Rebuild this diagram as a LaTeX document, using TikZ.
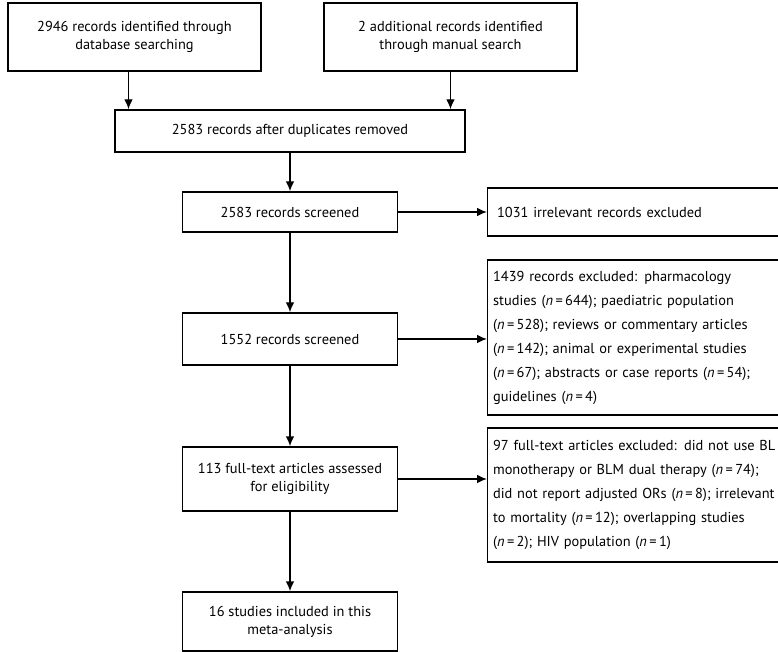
\documentclass[tikz,border=0pt]{standalone}
\usepackage{fontspec}
\setmainfont{PT Sans}
\usetikzlibrary{arrows.meta, calc}

\begin{document}
\begin{tikzpicture}[x=0.75pt, y=-0.75pt,
  box/.style={draw, line width=1.1pt, align=center, inner sep=0pt, minimum width=161.25pt,
    font=\fontsize{10.8}{13.5}\selectfont},
  sidebox/.style={draw, line width=1.1pt, anchor=west, align=left, inner xsep=4pt, inner ysep=0pt,
    minimum width=234.75pt, text width=226.75pt, font=\fontsize{10.8}{18}\selectfont},
  flow/.style={line width=1.1pt, -{Latex[length=7.5pt,width=6.5pt]}}]
\useasboundingbox (0,0) rectangle (778,652);
% Two sources at the top
\node[box, minimum width=189.75pt, minimum height=51pt] (dbase) at (134.5,37)
  {2946 records identified through\\database searching};
\node[box, minimum width=189.75pt, minimum height=51pt] (manual) at (450.5,37)
  {2 additional records identified\\through manual search};
% Main column
\node[box, minimum width=262.5pt, minimum height=31.5pt] (dupl) at (290,131)
  {2583 records after duplicates removed};
\node[box, minimum height=30pt] (screenA) at (290,212) {2583 records screened};
\node[box, minimum height=39pt] (screenB) at (290,339) {1552 records screened};
\node[box, minimum height=48pt] (fulltext) at (290,479)
  {113 full-text articles assessed\\for eligibility};
\node[box, minimum height=44.25pt] (included) at (290,621.5)
  {16 studies included in this\\meta-analysis};
% Exclusions on the right
\node[sidebox, minimum height=36pt, inner xsep=7pt, text width=220.75pt] (exclA) at (487,212)
  {1031 irrelevant records excluded};
\node[sidebox, minimum height=116.25pt] (exclB) at (487,337.5)
  {1439 records excluded: pharmacology\\
   studies (\textit{n}\,=\,644); paediatric population\\
   (\textit{n}\,=\,528); reviews or commentary articles\\
   (\textit{n}\,=\,142); animal or experimental studies\\
   (\textit{n}\,=\,67); abstracts or case reports (\textit{n}\,=\,54);\\
   guidelines (\textit{n}\,=\,4)};
\node[sidebox, minimum height=100.5pt] (exclC) at (487,495)
  {97 full-text articles excluded: did not use BL\\
   monotherapy or BLM dual therapy (\textit{n}\,=\,74);\\
   did not report adjusted ORs (\textit{n}\,=\,8); irrelevant\\
   to mortality (\textit{n}\,=\,12); overlapping studies\\
   (\textit{n}\,=\,2); HIV population (\textit{n}\,=\,1)};
% Connectors
\coordinate (dbaseout) at ($(dbase.south)+(-6,0)$);
\draw[flow] (dbaseout) -- (dbaseout |- dupl.north);
\draw[flow] (manual.south) -- (manual.south |- dupl.north);
\draw[flow] (dupl) -- (screenA);
\draw[flow] (screenA) -- (screenB);
\draw[flow] (screenB) -- (fulltext);
\draw[flow] (fulltext) -- (included);
\draw[flow] (screenA) -- (exclA);
\draw[flow] (screenB.east) -- (screenB.east -| exclB.west);
\draw[flow] (fulltext.east) -- (fulltext.east -| exclC.west);
\end{tikzpicture}
\end{document}
